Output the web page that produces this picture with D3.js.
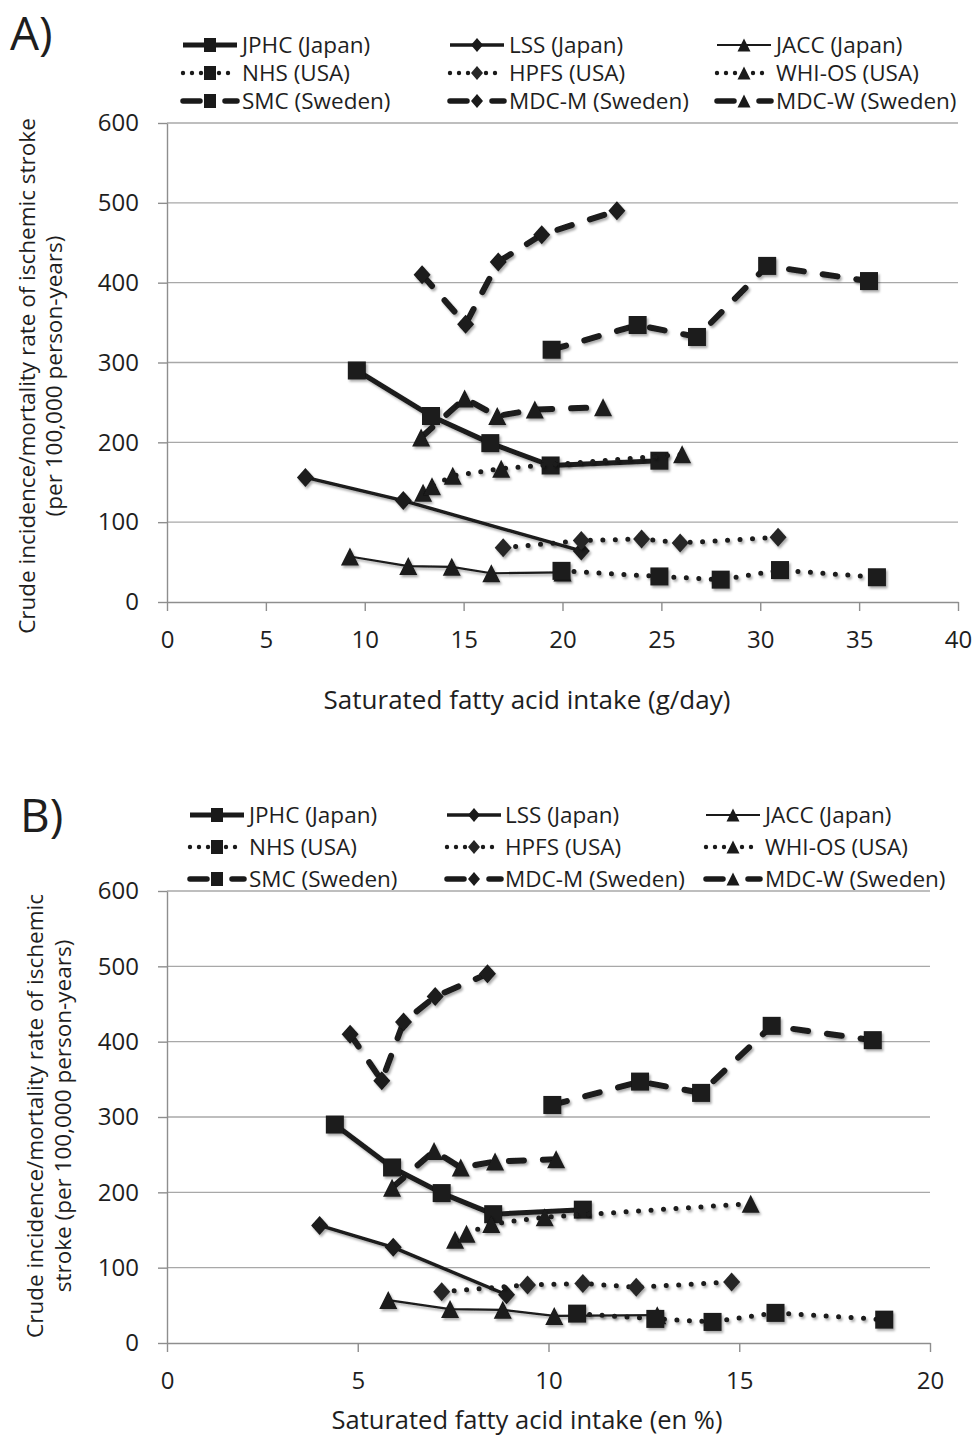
<!DOCTYPE html>
<html><head><meta charset="utf-8">
<script src="https://cdn.jsdelivr.net/npm/d3@7"></script>
<style>
body{margin:0;background:#fff}
svg{display:block}
text{font-family:"Open Sans",sans-serif;fill:#1e1e1e}
</style>
</head><body>
<svg id="chart" width="975" height="1440"></svg>
<script>
// ---------------- DATA ----------------
const cohorts = ["JPHC (Japan)","LSS (Japan)","JACC (Japan)","NHS (USA)","HPFS (USA)","WHI-OS (USA)","SMC (Sweden)","MDC-M (Sweden)","MDC-W (Sweden)"];

// crude incidence/mortality rate (per 100,000 person-years) – same in both panels
const rateJPHC = [290, 233, 199, 171, 177];
const rateLSS  = [156, 127, 64];
const rateJACC = [57, 45, 44, 36, 37];
const rateNHS  = [39, 32, 28, 40, 31];
const rateHPFS = [68, 77, 79, 74, 81];
const rateWHI  = [137, 145, 158, 167, 185];
const rateSMC  = [316, 347, 332, 421, 402];
const rateMDCM = [410, 348, 426, 460, 490];
const rateMDCW = [206, 255, 233, 241, 244];

// Panel A: saturated fatty acid intake (g/day)
const gdayJPHC = [9.6, 13.35, 16.35, 19.4, 24.9];
const gdayLSS  = [7.0, 11.95, 20.95];
const gdayJACC = [9.25, 12.2, 14.4, 16.4, 20.0];
const gdayNHS  = [19.95, 24.9, 28.0, 31.0, 35.9];
const gdayHPFS = [17.0, 20.95, 24.0, 25.95, 30.9];
const gdayWHI  = [12.95, 13.4, 14.45, 16.9, 26.05];
const gdaySMC  = [19.45, 23.8, 26.8, 30.35, 35.5];
const gdayMDCM = [12.9, 15.1, 16.75, 18.95, 22.75];
const gdayMDCW = [12.85, 15.05, 16.7, 18.6, 22.05];

// Panel B: saturated fatty acid intake (en %)
const enJPHC = [4.4, 5.9, 7.2, 8.55, 10.9];
const enLSS  = [4.0, 5.93, 8.9];
const enJACC = [5.8, 7.42, 8.8, 10.15, 12.85];
const enNHS  = [10.75, 12.8, 14.3, 15.95, 18.8];
const enHPFS = [7.2, 9.45, 10.9, 12.3, 14.8];
const enWHI  = [7.55, 7.85, 8.5, 9.9, 15.3];
const enSMC  = [10.1, 12.4, 14.0, 15.85, 18.5];
const enMDCM = [4.8, 5.63, 6.2, 7.03, 8.4];
const enMDCW = [5.9, 7.0, 7.7, 8.6, 10.2];

const rates = [rateJPHC, rateLSS, rateJACC, rateNHS, rateHPFS, rateWHI, rateSMC, rateMDCM, rateMDCW];
const xsA = [gdayJPHC, gdayLSS, gdayJACC, gdayNHS, gdayHPFS, gdayWHI, gdaySMC, gdayMDCM, gdayMDCW];
const xsB = [enJPHC, enLSS, enJACC, enNHS, enHPFS, enWHI, enSMC, enMDCM, enMDCW];

const yTicks = [0, 100, 200, 300, 400, 500, 600];
const xTicksA = [0, 5, 10, 15, 20, 25, 30, 35, 40];
const xTicksB = [0, 5, 10, 15, 20];

// ---------------- STYLES ----------------
const INK = "#1a1a1a";
const lineStyles = {
  thick: {w: 5,   dash: null,    cap: "butt"},
  med:   {w: 3.4, dash: null,    cap: "butt"},
  thin:  {w: 2.2, dash: null,    cap: "butt"},
  dot:   {w: 5,   dash: "0,12.5", cap: "round"},
  dash:  {w: 6,   dash: "15,19", cap: "round"}
};
const legendLine = {
  thick: {w: 5,   dash: null},
  med:   {w: 3.4, dash: null},
  thin:  {w: 2.2, dash: null},
  dot:   {w: 4.4, dash: "0,9"},
  dash:  {w: 5.5, dash: "17,25"}
};
const seriesLine   = ["thick","med","thin","dot","dot","dot","dash","dash","dash"];
const seriesMarker = ["square","diamond","triangle","square","diamond","triangle","square","diamond","triangle"];
const markerSize = {square:{w:18,h:18}, diamond:{w:17,h:19}, triangle:{w:18,h:18}};
const legendMarkerSize = {square:{w:12,h:14}, diamond:{w:12,h:14}, triangle:{w:13,h:13}};
const markerFill = ["#1a1a1a","#1a1a1a","#1a1a1a","#1a1a1a","#262626","#1a1a1a","#1a1a1a","#1a1a1a","#1a1a1a"];

function markerPath(type, s){
  const w = s.w/2, h = s.h/2;
  if (type === "square")  return `M${-w},${-h}H${w}V${h}H${-w}Z`;
  if (type === "diamond") return `M0,${-h}L${w},0L0,${h}L${-w},0Z`;
  return `M0,${-h}L${w},${h}L${-w},${h}Z`;
}

const svg = d3.select("#chart");
const defs = svg.append("defs");
defs.append("filter").attr("id","shadow").attr("filterUnits","userSpaceOnUse")
  .attr("x",0).attr("y",0).attr("width",975).attr("height",1440)
  .append("feDropShadow").attr("dx",1.6).attr("dy",2.2).attr("stdDeviation",1.3)
  .attr("flood-color","#000").attr("flood-opacity",0.33);

const GRID = "#a8a8a8", AXIS = "#8e8e8e";

function drawPanel(cfg){
  const g = svg.append("g");
  const x = d3.scaleLinear().domain([0, cfg.xMax]).range([cfg.left, cfg.right]);
  const y = d3.scaleLinear().domain([0, 600]).range([cfg.bottom, cfg.top]);

  // panel letter
  g.append("text").attr("x", cfg.letterX).attr("y", cfg.letterY)
    .attr("font-size", 46).text(cfg.letter);

  // gridlines
  g.append("g").selectAll("line").data(yTicks.filter(d => d > 0)).join("line")
    .attr("x1", cfg.left).attr("x2", cfg.right)
    .attr("y1", d => y(d)).attr("y2", d => y(d))
    .attr("stroke", GRID).attr("stroke-width", 1.4);

  // y axis
  const ya = g.append("g").attr("transform", `translate(${cfg.left},0)`)
    .call(d3.axisLeft(y).tickValues(yTicks).tickSize(9).tickSizeOuter(0).tickPadding(19));
  ya.select(".domain").attr("stroke", AXIS).attr("stroke-width", 1.4);
  ya.selectAll(".tick line").attr("stroke", AXIS).attr("stroke-width", 1.4);
  ya.selectAll(".tick text").attr("font-size", 24).attr("font-family", '"Open Sans",sans-serif').attr("fill", "#1e1e1e");

  // x axis
  const xa = g.append("g").attr("transform", `translate(0,${cfg.bottom})`)
    .call(d3.axisBottom(x).tickValues(cfg.xTicks).tickSize(9).tickSizeOuter(0).tickPadding(20));
  xa.select(".domain").attr("stroke", AXIS).attr("stroke-width", 1.4);
  xa.selectAll(".tick line").attr("stroke", AXIS).attr("stroke-width", 1.4);
  xa.selectAll(".tick text").attr("font-size", 24).attr("font-family", '"Open Sans",sans-serif').attr("fill", "#1e1e1e");

  // axis titles
  g.append("text").attr("x", cfg.xTitleX).attr("y", cfg.xTitleY).attr("text-anchor","middle")
    .attr("font-size", cfg.xTitleSize).text(cfg.xTitle);
  cfg.yTitle.forEach((t, i) => {
    g.append("text").attr("transform", `translate(${cfg.yTitleX[i]},${cfg.yTitleY}) rotate(-90)`)
      .attr("text-anchor","middle").attr("dy","0.35em").attr("font-size", 22.5).text(t);
  });

  // series
  const line = d3.line().x(d => x(d[0])).y(d => y(d[1]));
  cohorts.forEach((name, i) => {
    const pts = cfg.xs[i].map((v, j) => [v, rates[i][j]]);
    const ls = lineStyles[seriesLine[i]];
    const sg = g.append("g").attr("filter", "url(#shadow)");
    sg.append("path").attr("d", line(pts)).attr("fill","none").attr("stroke", INK)
      .attr("stroke-width", ls.w).attr("stroke-linecap", ls.cap).attr("stroke-linejoin","round")
      .attr("stroke-dasharray", ls.dash);
    sg.selectAll("path.m").data(pts).join("path").attr("class","m")
      .attr("transform", d => `translate(${x(d[0])},${y(d[1])})`)
      .attr("d", markerPath(seriesMarker[i], markerSize[seriesMarker[i]]))
      .attr("fill", markerFill[i]);
  });

  // legend
  cohorts.forEach((name, i) => {
    const row = Math.floor(i / 3), col = i % 3;
    const ly = cfg.legRows[row], lx = cfg.legCols[col];
    const ls = legendLine[seriesLine[i]];
    const lg = g.append("g");
    lg.append("line").attr("x1", lx).attr("x2", lx + 54).attr("y1", ly).attr("y2", ly)
      .attr("stroke", INK).attr("stroke-width", ls.w)
      .attr("stroke-linecap", ls.dash ? "round" : "butt")
      .attr("stroke-dasharray", ls.dash);
    lg.append("path").attr("transform", `translate(${lx + 27},${ly})`)
      .attr("d", markerPath(seriesMarker[i], legendMarkerSize[seriesMarker[i]]))
      .attr("fill", markerFill[i]);
    lg.append("text").attr("x", cfg.legText[col]).attr("y", ly).attr("dy","0.35em")
      .attr("font-size", 22.5).text(name);
  });
}

drawPanel({
  letter: "A)", letterX: 10, letterY: 50,
  left: 167, right: 958, top: 123, bottom: 602, xMax: 40, xTicks: xTicksA, xs: xsA,
  xTitle: "Saturated fatty acid intake (g/day)", xTitleX: 527, xTitleY: 709, xTitleSize: 26,
  yTitle: ["Crude incidence/mortality rate of ischemic stroke", "(per 100,000 person-years)"],
  yTitleX: [27, 54], yTitleY: 376,
  legRows: [45, 73, 101], legCols: [183, 450, 717], legText: [242, 509, 776]
});

drawPanel({
  letter: "B)", letterX: 20, letterY: 832,
  left: 167, right: 930, top: 891, bottom: 1343, xMax: 20, xTicks: xTicksB, xs: xsB,
  xTitle: "Saturated fatty acid intake (en %)", xTitleX: 527, xTitleY: 1429, xTitleSize: 25.5,
  yTitle: ["Crude incidence/mortality rate of ischemic", "stroke (per 100,000 person-years)"],
  yTitleX: [35, 63], yTitleY: 1116,
  legRows: [815, 847, 879], legCols: [190, 447, 706], legText: [249, 505, 765]
});
</script>
</body></html>
